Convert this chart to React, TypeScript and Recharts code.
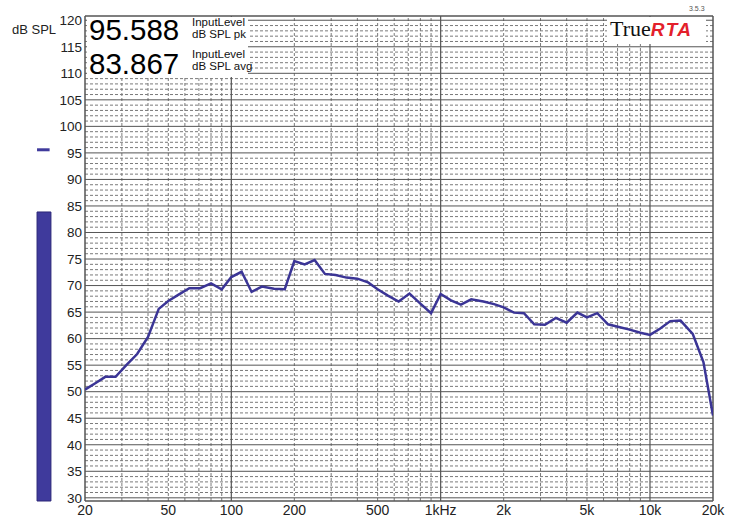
import React from 'react';
import { LineChart, Line, XAxis, YAxis, ReferenceLine, ReferenceArea } from 'recharts';

// 1/6-octave analyzer bands (Hz)
const FREQS = [
  20, 22.4, 25, 28, 31.5, 35.5, 40, 45, 50, 56,
  63, 71, 80, 90, 100, 112, 125, 140, 160, 180,
  200, 224, 250, 280, 315, 355, 400, 450, 500, 560,
  630, 710, 800, 900, 1000, 1120, 1250, 1400, 1600, 1800,
  2000, 2240, 2500, 2800, 3150, 3550, 4000, 4500, 5000, 5600,
  6300, 7100, 8000, 9000, 10000, 11200, 12500, 14000, 16000, 18000,
  20000,
];
// measured level (dB SPL)
const LEVELS = [
  50.4, 51.6, 52.8, 52.8, 55.0, 57.1, 60.3, 65.6, 67.1, 68.3,
  69.5, 69.5, 70.4, 69.3, 71.6, 72.6, 68.8, 69.8, 69.4, 69.3,
  74.6, 74.0, 74.8, 72.2, 72.0, 71.5, 71.3, 70.6, 69.3, 68.1,
  67.0, 68.5, 66.6, 64.8, 68.4, 67.2, 66.4, 67.4, 67.0, 66.5,
  65.9, 64.9, 64.8, 62.7, 62.6, 63.9, 63.0, 64.9, 64.0, 64.8,
  62.7, 62.2, 61.7, 61.1, 60.7, 61.9, 63.3, 63.4, 60.9, 55.6,
  45.5,
];

const X_TICKS = [20, 50, 100, 200, 500, 1000, 2000, 5000, 10000, 20000];
const X_TICK_LABELS = ['20', '50', '100', '200', '500', '1kHz', '2k', '5k', '10k', '20k'];
const Y_TICKS = [30, 35, 40, 45, 50, 55, 60, 65, 70, 75, 80, 85, 90, 95, 100, 105, 110, 115, 120];
const DECADE_LINES = [100, 1000, 10000];
const MINOR_FREQ_LINES = [
  30, 40, 50, 60, 70, 80, 90,
  200, 300, 400, 500, 600, 700, 800, 900,
  2000, 3000, 4000, 5000, 6000, 7000, 8000, 9000,
];
const MINOR_DB_LINES: number[] = [];
for (let d = 31; d < 120; d++) if (d % 5 !== 0) MINOR_DB_LINES.push(d);

const PEAK_DB = 95.588;
const AVG_DB = 83.867;
const PEAK_TEXT = '95.588';
const AVG_TEXT = '83.867';

const X_DOMAIN: [number, number] = [20, 20000];
const Y_DOMAIN: [number, number] = [29.4, 120.8];
// left-hand level meter placement (frequency units, outside the plot)
const METER_F1 = 11.8;
const METER_F2 = 13.75;

const data = FREQS.map((f, i) => ({ f, db: LEVELS[i] }));

const LINE_COLOR = '#3b3596';
const GRID_DARK = '#555';
const GRID_DASH = '#7a7a7a';
const FONT = '"Liberation Sans", Arial, Helvetica, sans-serif';

const bigNum: React.CSSProperties = {
  position: 'absolute',
  left: 89,
  fontSize: 29.5,
  lineHeight: 'normal',
  color: '#000',
  whiteSpace: 'nowrap',
};

export default function App() {
  return (
    <div style={{ position: 'absolute', left: 0, top: 0, width: 731, height: 520, background: '#fff', fontFamily: FONT }}>
      <LineChart width={731} height={520} data={data} margin={{ top: 16, right: 18, bottom: 0, left: 45 }}>
        <XAxis
          dataKey="f"
          type="number"
          scale="log"
          domain={X_DOMAIN}
          ticks={X_TICKS}
          interval={0}
          allowDataOverflow
          axisLine={false}
          tickLine={false}
          tickSize={0}
          tickMargin={4}
          height={19}
          tickFormatter={(v: number) => X_TICK_LABELS[X_TICKS.indexOf(v)] ?? String(v)}
          tick={{ fill: '#222', fontSize: 14, fontFamily: FONT }}
        />
        <YAxis
          type="number"
          domain={Y_DOMAIN}
          ticks={Y_TICKS}
          interval={0}
          allowDataOverflow
          width={40}
          axisLine={false}
          tickLine={false}
          tickSize={0}
          tickMargin={3}
          tick={{ fill: '#222', fontSize: 13.5, fontFamily: FONT }}
        />
        {MINOR_DB_LINES.map((d) => (
          <ReferenceLine key={'hd' + d} y={d} stroke={GRID_DASH} strokeDasharray="3 2" strokeWidth={1} ifOverflow="hidden" />
        ))}
        {MINOR_FREQ_LINES.map((f) => (
          <ReferenceLine key={'vd' + f} x={f} stroke={GRID_DASH} strokeDasharray="3 2" strokeWidth={1} ifOverflow="hidden" />
        ))}
        {Y_TICKS.map((d) => (
          <ReferenceLine key={'hs' + d} y={d} stroke={GRID_DARK} strokeWidth={1} ifOverflow="hidden" />
        ))}
        {DECADE_LINES.map((f) => (
          <ReferenceLine key={'vs' + f} x={f} stroke={GRID_DARK} strokeWidth={1.2} ifOverflow="hidden" />
        ))}
        <ReferenceLine x={X_DOMAIN[0]} stroke={GRID_DARK} strokeWidth={1.5} ifOverflow="visible" />
        <ReferenceLine x={X_DOMAIN[1]} stroke={GRID_DARK} strokeWidth={1.5} ifOverflow="visible" />
        <ReferenceLine y={Y_DOMAIN[0]} stroke={GRID_DARK} strokeWidth={1.5} ifOverflow="visible" />
        <ReferenceLine y={Y_DOMAIN[1]} stroke={GRID_DARK} strokeWidth={1.5} ifOverflow="visible" />
        <ReferenceArea
          x1={METER_F1}
          x2={METER_F2}
          y1={Y_DOMAIN[0]}
          y2={AVG_DB}
          fill="#3f3a9c"
          fillOpacity={1}
          stroke="#2c2778"
          strokeWidth={1}
          ifOverflow="visible"
        />
        <ReferenceLine
          segment={[{ x: METER_F1, y: PEAK_DB }, { x: METER_F2 - 0.2, y: PEAK_DB }]}
          stroke="#3f3a9c"
          strokeWidth={3}
          ifOverflow="visible"
        />
        <Line
          type="linear"
          dataKey="db"
          stroke={LINE_COLOR}
          strokeWidth={2.5}
          dot={false}
          activeDot={false}
          isAnimationActive={false}
        />
      </LineChart>

      {/* y axis title */}
      <div style={{ position: 'absolute', left: 12, top: 22, fontSize: 13, color: '#222', whiteSpace: 'nowrap' }}>dB SPL</div>

      {/* level readout box */}
      <div style={{ position: 'absolute', left: 87, top: 17, width: 161, height: 60, background: '#fff' }} />
      <div style={{ ...bigNum, top: 13 }}>{PEAK_TEXT}</div>
      <div style={{ ...bigNum, top: 46.5 }}>{AVG_TEXT}</div>
      <div style={{ position: 'absolute', left: 192, top: 16, fontSize: 11.5, lineHeight: '12px', color: '#111', whiteSpace: 'nowrap' }}>
        <div>InputLevel</div>
        <div>dB SPL pk</div>
      </div>
      <div style={{ position: 'absolute', left: 192, top: 48, fontSize: 11.5, lineHeight: '12px', color: '#111', whiteSpace: 'nowrap' }}>
        <div>InputLevel</div>
        <div>dB SPL avg</div>
      </div>

      {/* logo box */}
      <div style={{ position: 'absolute', left: 607, top: 17, width: 99, height: 27, background: '#fff' }} />
      <div style={{ position: 'absolute', left: 610, top: 17, whiteSpace: 'nowrap', lineHeight: '24px' }}>
        <span style={{ fontFamily: '"Liberation Serif", "Times New Roman", serif', fontSize: 22, color: '#111' }}>True</span>
        <span style={{ fontFamily: FONT, fontSize: 19, fontWeight: 'bold', fontStyle: 'italic', color: '#e3202b', letterSpacing: 1.5 }}>RTA</span>
      </div>
      <div style={{ position: 'absolute', left: 689, top: 5, fontSize: 7, color: '#555', whiteSpace: 'nowrap' }}>3.5.3</div>
    </div>
  );
}
